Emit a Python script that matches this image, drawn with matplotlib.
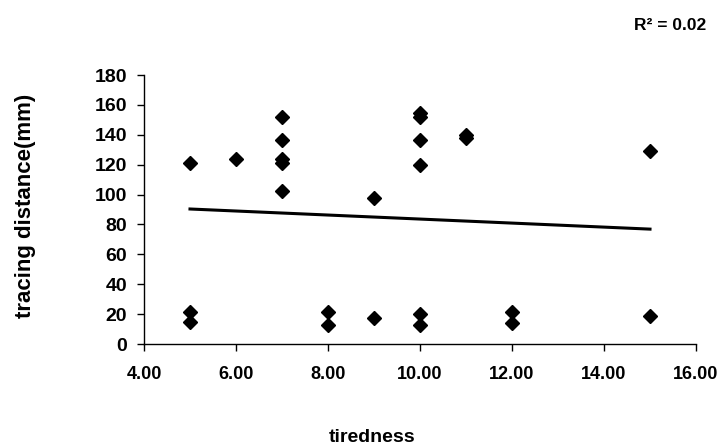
import numpy as np
import matplotlib
matplotlib.use("Agg")
import matplotlib.pyplot as plt

tiredness = [5, 5, 5, 6, 7, 7, 7, 7, 7, 8, 8, 9, 9,
             10, 10, 10, 10, 10, 10, 11, 11, 12, 12, 15, 15]
distance = [121.4, 21.6, 14.9, 123.6, 151.7, 136.5, 123.6, 121.0, 102.4, 21.2, 12.7, 97.9, 17.6,
            154.4, 151.7, 136.5, 119.8, 20.1, 12.7, 139.9, 137.7, 21.6, 13.8, 129.4, 18.7]
x_ticks = [4, 6, 8, 10, 12, 14, 16]
y_ticks = [0, 20, 40, 60, 80, 100, 120, 140, 160, 180]
r2_label = "R² = 0.02"

plt.rcParams['font.family'] = ['Liberation Sans', 'DejaVu Sans']
plt.rcParams['font.weight'] = 'bold'

W, H = 727, 448
fig = plt.figure(figsize=(W/100, H/100), dpi=100)
ax = fig.add_axes([144/W, 1-344/H, (696-144)/W, (344-75)/H])

ax.plot(tiredness, distance, linestyle='none', marker='D', markersize=7.5,
        color='black', clip_on=False, zorder=3)

slope, intercept = np.polyfit(tiredness, distance, 1)
xs = np.array([min(tiredness), max(tiredness)])
ax.plot(xs, slope*xs + intercept, color='black', linewidth=2.2, zorder=2)

ax.set_xlim(4, 16)
ax.set_ylim(0, 180)
ax.set_xticks(x_ticks)
ax.set_xticklabels([f"{v:.2f}" for v in x_ticks])
ax.set_yticks(y_ticks)
ax.set_yticklabels([str(v) for v in y_ticks])

for s in ['top', 'right']:
    ax.spines[s].set_visible(False)
for s in ['left', 'bottom']:
    ax.spines[s].set_linewidth(1)
ax.tick_params(axis='both', direction='out', length=5, width=1)
ax.tick_params(axis='x', pad=11, labelsize=13)
ax.tick_params(axis='y', pad=7, labelsize=14)
for lab in ax.get_xticklabels() + ax.get_yticklabels():
    lab.set_fontweight('bold')

fig.text(372/W, 1-437/H, "tiredness", ha='center', va='center', fontsize=14, fontweight='bold')
fig.text(26/W, 1-206/H, "tracing distance(mm)", ha='center', va='center', rotation=90,
         fontsize=16, fontweight='bold')
fig.text(706/W, 1-25/H, r2_label, ha='right', va='center', fontsize=12.5, fontweight='bold')

fig.savefig("out.png", dpi=100)
